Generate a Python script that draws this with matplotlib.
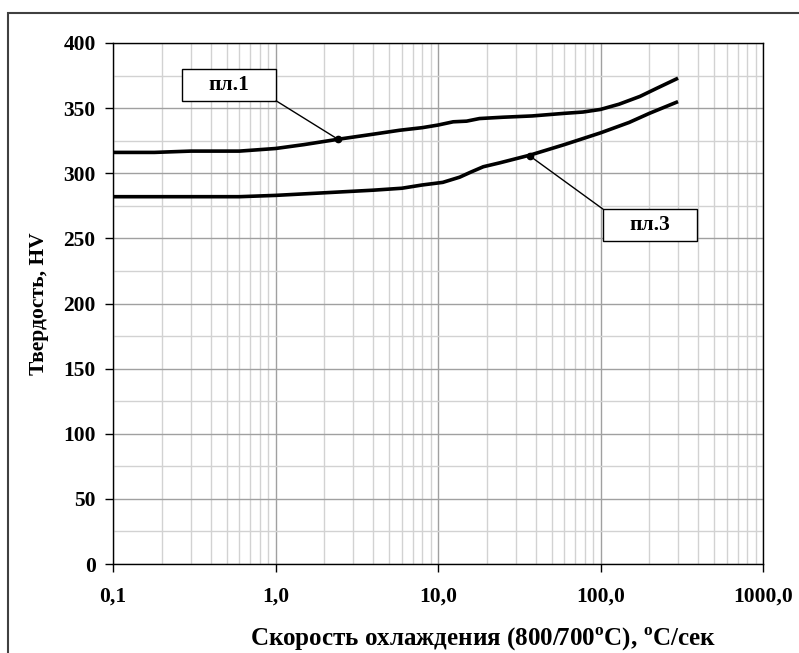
import matplotlib.pyplot as plt
from matplotlib.patches import Rectangle
from matplotlib.ticker import FixedLocator, NullFormatter

plt.rcParams['font.family'] = ['Liberation Serif', 'DejaVu Serif']
plt.rcParams['font.weight'] = 'bold'
plt.rcParams['mathtext.fontset'] = 'custom'
plt.rcParams['mathtext.rm'] = 'Liberation Serif:bold'
plt.rcParams['mathtext.bf'] = 'Liberation Serif:bold'

# пл.1
rate1 = [0.1, 0.18, 0.3, 0.6, 1.0, 1.5, 2.4, 4, 5.8, 8, 10, 12.4, 15, 18, 25, 38, 60, 78, 100, 130, 175, 220, 300]
hv1 = [316, 316, 317, 317, 319, 322, 326, 330, 333, 335, 337, 339.5, 340, 342, 343, 344, 346, 347, 349, 353, 359, 365, 373]
# пл.3
rate3 = [0.1, 0.3, 0.6, 1.0, 2, 4, 6, 8, 10.7, 13.6, 16, 19, 24, 37, 60, 100, 150, 200, 300]
hv3 = [282, 282, 282, 283, 285, 287, 288.5, 291, 293, 297, 301, 305, 308, 314, 322, 331, 339, 346, 355]

labels = ['пл.1', 'пл.3']
label_pts = [(2.43, 326), (37, 313)]
xticklabels = ['0,1', '1,0', '10,0', '100,0', '1000,0']

fig = plt.figure(figsize=(7.99, 6.53), dpi=100)
ax = fig.add_axes([113 / 799, 1 - 564 / 653, 650 / 799, 521 / 653])

# рамка вокруг диаграммы
fig.patches.append(Rectangle((8 / 799, -0.1), 1.2, 1 - 13 / 653 + 0.1, transform=fig.transFigure,
                             fill=False, edgecolor='#404040', linewidth=1.5))

ax.plot(rate1, hv1, color='black', linewidth=2.6, solid_capstyle='butt', zorder=3)
ax.plot(rate3, hv3, color='black', linewidth=2.6, solid_capstyle='butt', zorder=3)

ax.set_xscale('log')
ax.set_xlim(0.1, 1000)
ax.set_ylim(0, 400)
ax.set_xticks([0.1, 1, 10, 100, 1000])
ax.set_xticklabels(xticklabels)
minors = [m * 10.0 ** e for e in range(-1, 3) for m in range(2, 10)]
ax.xaxis.set_minor_locator(FixedLocator(minors))
ax.xaxis.set_minor_formatter(NullFormatter())
ax.set_yticks(range(0, 401, 50))
ax.set_yticks(range(25, 400, 50), minor=True)

ax.grid(which='major', color='#a0a0a0', linewidth=1.0, zorder=0)
ax.grid(which='minor', color='#d2d2d2', linewidth=1.0, zorder=0)
ax.set_axisbelow(True)
ax.tick_params(which='major', direction='out', length=5.5, width=1, labelsize=15.5)
ax.tick_params(axis='y', which='major', pad=7)
ax.tick_params(axis='x', which='major', pad=11)
ax.tick_params(which='minor', length=0)
for s in ax.spines.values():
    s.set_linewidth(1.0)

ax.set_ylabel('Твердость, HV', fontsize=15.5, fontweight='bold', labelpad=10)
ax.set_xlabel(r'Скорость охлаждения (800/700$^{\mathrm{o}}$C), $^{\mathrm{o}}$C/сек',
              fontsize=18, fontweight='bold')
ax.xaxis.set_label_coords(0.57, -0.119)

# подписи кривых в рамках с выносками
boxes = [(0.106, 0.889), (0.754, 0.620)]
box_w, box_h = 0.145, 0.061
corners = [(boxes[0][0] + box_w, boxes[0][1]), (boxes[1][0], boxes[1][1] + box_h)]
for lab, pt, (bx, by), corner in zip(labels, label_pts, boxes, corners):
    ax.add_patch(Rectangle((bx, by), box_w, box_h, transform=ax.transAxes, facecolor='white',
                           edgecolor='black', linewidth=1.0, zorder=5))
    ax.text(bx + box_w / 2, by + box_h / 2, lab, transform=ax.transAxes, ha='center',
            va='center', fontsize=15.5, fontweight='bold', zorder=6)
    ax.annotate('', xy=pt, xytext=corner, textcoords='axes fraction',
                arrowprops=dict(arrowstyle='-', color='black', linewidth=1.0,
                                shrinkA=0, shrinkB=0), zorder=5)
ax.plot([p[0] for p in label_pts], [p[1] for p in label_pts], 'o', color='black',
        markersize=4.5, zorder=6)

fig.savefig('out.png', dpi=100)
